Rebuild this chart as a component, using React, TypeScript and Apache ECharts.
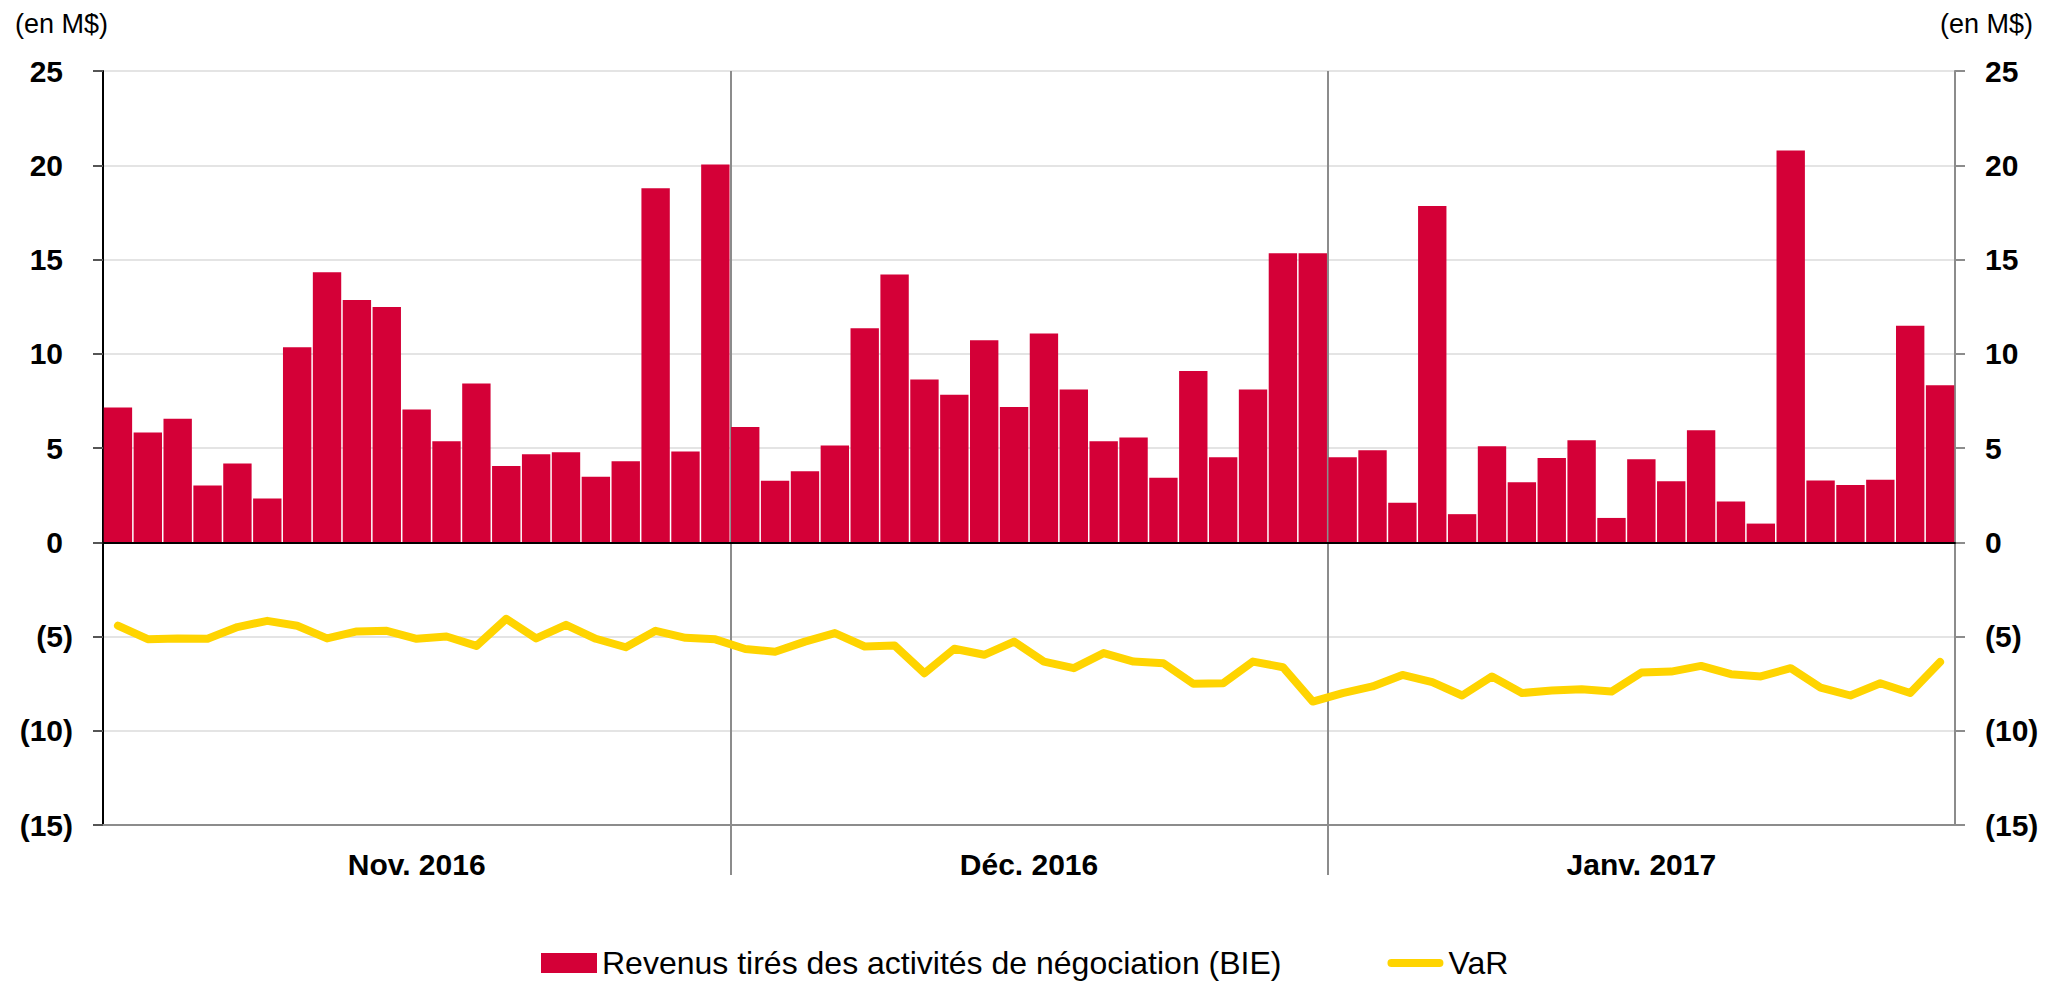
import React, { useEffect, useRef } from "react";
import * as echarts from "echarts";

// ---- data ----
const monthLabels = ["Nov. 2016", "Déc. 2016", "Janv. 2017"];
const monthCounts = [21, 20, 21];

const revenus = [
  // Nov. 2016
  7.15, 5.82, 6.55, 3.01, 4.18, 2.32, 10.34, 14.32, 12.85, 12.48, 7.04, 5.36, 8.42, 4.04, 4.67, 4.78, 3.47, 4.3, 18.78, 4.81, 20.04,
  // Déc. 2016
  6.11, 3.26, 3.77, 5.13, 11.35, 14.21, 8.64, 7.82, 10.71, 7.17, 11.08, 8.11, 5.36, 5.56, 3.42, 9.08, 4.51, 8.11, 15.33, 15.33,
  // Janv. 2017
  4.51, 4.88, 2.1, 17.84, 1.49, 5.09, 3.18, 4.47, 5.41, 1.29, 4.4, 3.24, 5.94, 2.16, 0.99, 20.78, 3.27, 3.04, 3.31, 11.49, 8.33,
];

const varValues = [
  // Nov. 2016
  -4.42, -5.14, -5.1, -5.12, -4.5, -4.17, -4.43, -5.1, -4.73, -4.7, -5.12, -5.0, -5.5, -4.06, -5.1, -4.38, -5.12, -5.57, -4.7, -5.07, -5.15,
  // Déc. 2016
  -5.66, -5.81, -5.27, -4.82, -5.53, -5.48, -6.95, -5.65, -5.97, -5.27, -6.33, -6.68, -5.88, -6.33, -6.42, -7.51, -7.48, -6.33, -6.63, -8.45,
  // Janv. 2017
  -8.0, -7.65, -7.04, -7.42, -8.13, -7.12, -8.0, -7.87, -7.8, -7.92, -6.91, -6.86, -6.56, -7.0, -7.12, -6.68, -7.71, -8.13, -7.48, -8.0, -6.35,
];

const seriesNames = ["Revenus tirés des activités de négociation (BIE)", "VaR"];
const yMin = -15;
const yMax = 25;
const yStep = 5;
const unitLabel = "(en M$)";

// categories (trading days per month)
const categories: string[] = [];
monthLabels.forEach((m, mi) => {
  for (let d = 1; d <= monthCounts[mi]; d++) categories.push(`${m} j${d}`);
});

// half-bar grid for month labels and separators
const totalBars = monthCounts.reduce((a, b) => a + b, 0);
const halfPoints = Array.from({ length: totalBars * 2 + 1 }, (_, i) => String(i));
const labelAt: Record<number, string> = {};
const sepAt = new Set<number>();
{
  let start = 0;
  monthCounts.forEach((c, i) => {
    labelAt[start * 2 + c] = monthLabels[i];
    start += c;
    if (i < monthCounts.length - 1) sepAt.add(start * 2);
  });
}

const FONT = "Liberation Sans";

const fmt = (v: number) => (v < 0 ? `(${-v})` : `${v}{h|)}`);

const lineIcon = "path://M4,0 L52,0 A4,4 0 0 1 52,8 L4,8 A4,4 0 0 1 4,0 Z";

export default function App() {
  const ref = useRef<HTMLDivElement>(null);
  useEffect(() => {
    document.body.style.margin = "0";
    if (!ref.current) return;
    const chart = echarts.init(ref.current, undefined, { renderer: "svg" });
    const labelRich = {
      h: { color: "transparent", fontSize: 30, fontWeight: "bold", fontFamily: FONT },
    };
    chart.setOption({
      animation: false,
      backgroundColor: "#ffffff",
      grid: {
        left: 103,
        right: 102,
        top: 71,
        bottom: 156,
        show: true,
        borderColor: "#8c8c8c",
        borderWidth: 2,
        containLabel: false,
      },
      legend: {
        left: 536,
        top: 942,
        itemWidth: 56,
        itemHeight: 20,
        itemGap: 106,
        textStyle: { fontFamily: FONT, fontSize: 32, color: "#000" },
        data: [
          { name: seriesNames[0], icon: "rect" },
          { name: seriesNames[1], icon: lineIcon, itemStyle: { color: "#ffd400" } },
        ],
      },
      graphic: [
        {
          type: "text",
          left: 15,
          top: 10,
          style: { text: unitLabel, fontFamily: FONT, fontSize: 27, fill: "#000" },
        },
        {
          type: "text",
          right: 24,
          top: 10,
          style: { text: unitLabel, fontFamily: FONT, fontSize: 27, fill: "#000" },
        },
      ],
      xAxis: [
        {
          type: "category",
          data: categories,
          axisLine: { onZero: true, lineStyle: { color: "#000", width: 2 } },
          axisTick: { show: false },
          axisLabel: { show: false },
          splitLine: { show: false },
          z: 5,
        },
        {
          type: "category",
          position: "bottom",
          boundaryGap: false,
          data: halfPoints,
          axisLine: { onZero: false, lineStyle: { color: "#8c8c8c", width: 2 } },
          axisTick: {
            show: true,
            interval: (i: number) => sepAt.has(i),
            length: 50,
            lineStyle: { color: "#8c8c8c", width: 2 },
          },
          axisLabel: {
            show: true,
            interval: (i: number) => labelAt[i] !== undefined,
            formatter: (_v: string, i: number) => labelAt[i] ?? "",
            margin: 24,
            fontFamily: FONT,
            fontSize: 30,
            fontWeight: "bold",
            color: "#000",
          },
          splitLine: {
            show: true,
            interval: (i: number) => sepAt.has(i),
            lineStyle: { color: "#8c8c8c", width: 2 },
          },
        },
      ],
      yAxis: [
        {
          type: "value",
          position: "left",
          min: yMin,
          max: yMax,
          interval: yStep,
          axisLine: { show: true, lineStyle: { color: "#000", width: 2 } },
          axisTick: { show: true, length: 10, lineStyle: { color: "#555", width: 2 } },
          axisLabel: {
            formatter: fmt,
            margin: 30,
            fontFamily: FONT,
            fontSize: 30,
            fontWeight: "bold",
            color: "#000",
            rich: labelRich,
          },
          splitLine: { show: true, lineStyle: { color: "#e4e4e4", width: 2 } },
        },
        {
          type: "value",
          position: "right",
          min: yMin,
          max: yMax,
          interval: yStep,
          axisLine: { show: true, lineStyle: { color: "#8c8c8c", width: 2 } },
          axisTick: { show: true, length: 10, lineStyle: { color: "#8c8c8c", width: 2 } },
          axisLabel: {
            formatter: fmt,
            margin: 30,
            fontFamily: FONT,
            fontSize: 30,
            fontWeight: "bold",
            color: "#000",
            rich: labelRich,
          },
          splitLine: { show: false },
        },
      ],
      series: [
        {
          name: seriesNames[0],
          type: "bar",
          xAxisIndex: 0,
          yAxisIndex: 0,
          data: revenus,
          barCategoryGap: "5%",
          itemStyle: { color: "#d40037" },
          z: 2,
        },
        {
          name: seriesNames[1],
          type: "line",
          xAxisIndex: 0,
          yAxisIndex: 0,
          data: varValues,
          symbol: "none",
          showSymbol: false,
          lineStyle: { color: "#ffd400", width: 8, cap: "round", join: "round" },
          itemStyle: { color: "#ffd400" },
          z: 3,
        },
      ],
    });
    return () => chart.dispose();
  }, []);
  return <div ref={ref} style={{ width: 2057, height: 981 }} />;
}
